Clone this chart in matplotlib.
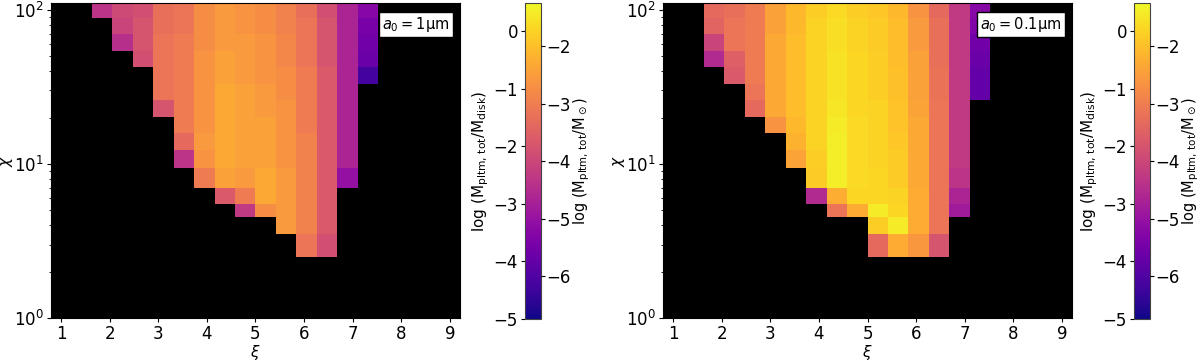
import numpy as np
import matplotlib
matplotlib.use("Agg")
import matplotlib.pyplot as plt
from matplotlib.colors import Normalize

# ---------------- data ----------------
xi_values = np.linspace(1, 9, 20)          # xi grid (cell centres)
# chi grid (cell centres) (top of the panel downward)
chi_values = [100, 78.1, 61.0, 47.7, 37.3, 29.1, 22.7, 17.8, 13.9, 10.8,
              8, 6, 5, 4, 3, 2, 1]

# log(M_pltm,tot / M_disk); each list is one xi column, values from the top (chi=100) downward.
# empty lists: no planetesimals (black)
left_cols = [
    [], [],
    [-2.6],
    [-2.2, -2.3, -2.7],
    [-2.1, -2.0, -2.0, -2.1],
    [-1.5, -1.5, -1.4, -1.4, -1.4, -1.4, -2.0],
    [-1.4, -1.4, -1.3, -1.3, -1.3, -1.3, -1.3, -1.3, -1.6, -2.6],
    [-1.0, -1.0, -1.0, -0.9, -0.9, -0.9, -0.9, -0.9, -0.8, -0.9, -1.3],
    [-0.8, -0.8, -0.8, -0.7, -0.7, -0.6, -0.6, -0.6, -0.6, -0.6, -0.7, -1.9],
    [-0.9, -0.9, -0.8, -0.8, -0.8, -0.7, -0.7, -0.7, -0.7, -0.7, -0.8, -1.3, -2.5],
    [-1.0, -1.0, -0.9, -0.9, -0.9, -0.8, -0.8, -0.7, -0.7, -0.7, -0.6, -0.6, -1.0],
    [-1.2, -1.2, -1.1, -1.1, -1.0, -1.0, -0.9, -0.9, -0.9, -0.9, -0.8, -0.8, -0.8, -0.8],
    [-1.5, -1.4, -1.4, -1.4, -1.3, -1.3, -1.3, -1.3, -1.2, -1.2, -1.2, -1.2, -1.2, -1.2, -1.4],
    [-2.1, -2.0, -2.0, -2.0, -1.9, -1.9, -1.9, -1.9, -1.9, -1.9, -1.9, -1.9, -1.9, -1.9, -2.1],
    [-2.9, -2.9, -2.9, -2.9, -2.9, -2.9, -2.9, -2.9, -2.9, -2.9, -3.3],
    [-3.5, -3.7, -3.8, -3.9, -4.4],
    [], [], [], [],
]

right_cols = [
    [], [],
    [-1.6, -1.7, -2.3, -2.8],
    [-1.5, -1.4, -1.4, -1.8, -1.9],
    [-1.3, -1.3, -1.3, -1.3, -1.3, -1.4, -1.6],
    [-0.7, -0.7, -0.6, -0.6, -0.6, -0.6, -0.6, -0.9],
    [-0.35, -0.35, -0.3, -0.3, -0.3, -0.3, -0.3, -0.35, -0.45, -0.65],
    [-0.05, 0.0, 0.0, 0.0, 0.0, 0.0, 0.0, 0.0, 0.0, -0.05, -0.1, -2.8],
    [0.1, 0.15, 0.15, 0.2, 0.2, 0.2, 0.25, 0.3, 0.35, 0.35, 0.35, -0.5, -1.4],
    [-0.05, 0.0, 0.0, 0.05, 0.05, 0.05, 0.05, 0.1, 0.1, 0.1, 0.1, 0.05, -0.55],
    [-0.15, -0.1, -0.1, -0.05, -0.05, -0.05, 0.0, 0.0, 0.0, 0.0, 0.05, 0.05, 0.3, -0.05, -1.6],
    [-0.35, -0.3, -0.3, -0.3, -0.25, -0.25, -0.2, -0.2, -0.15, -0.1, -0.1, 0.0, 0.05, 0.3, -0.55],
    [-0.9, -0.8, -0.8, -0.7, -0.7, -0.7, -0.65, -0.6, -0.6, -0.6, -0.6, -0.55, -0.55, -0.55, -0.85],
    [-1.6, -1.5, -1.5, -1.5, -1.45, -1.45, -1.4, -1.4, -1.4, -1.4, -1.4, -1.4, -1.4, -1.4, -2.0],
    [-2.5, -2.5, -2.5, -2.5, -2.5, -2.5, -2.5, -2.5, -2.5, -2.5, -2.6, -2.9, -3.1],
    [-3.5, -3.6, -3.8, -3.9, -4.0, -4.0],
    [], [], [], [],
]

panel_labels = [r"$a_0 = 1$μm", r"$a_0 = 0.1$μm"]
log_mdisk = -1.74          # offset between the two colour-bar scales
vmin, vmax = -5.0, 0.49
cbar_ticks_disk = [0, -1, -2, -3, -4, -5]
cbar_ticks_sun = [-2, -3, -4, -5, -6]


def to_grid(cols, nrows):
    grid = np.full((nrows, len(cols)), np.nan)
    for i, col in enumerate(cols):
        for k, v in enumerate(col):
            grid[k, i] = v
    return grid


plt.rcParams['font.family'] = ['DejaVu Sans']
plt.rcParams['font.size'] = 12
for a in ('xtick', 'ytick'):
    plt.rcParams[f'{a}.major.size'] = 2.6
    plt.rcParams[f'{a}.minor.size'] = 1.6
    plt.rcParams[f'{a}.major.pad'] = 2.5
    plt.rcParams[f'{a}.minor.pad'] = 2.5
    plt.rcParams[f'{a}.labelsize'] = 12

fig = plt.figure(figsize=(12, 3.61), dpi=100)
W, H = 1200.0, 361.0

ax_boxes = [(51, 3, 409, 315), (663, 3, 409, 315)]
cax_boxes = [(525, 3, 16, 316), (1134, 3, 16, 316)]
norm = Normalize(vmin=vmin, vmax=vmax)

for cols, lab, (x0, y0, w, h), (cx0, cy0, cw, ch) in zip(
        [left_cols, right_cols], panel_labels, ax_boxes, cax_boxes):
    ax = fig.add_axes([x0 / W, 1 - (y0 + h) / H, w / W, h / H])
    grid = to_grid(cols, len(chi_values))
    ax.set_facecolor('black')
    mesh = ax.pcolormesh(xi_values, chi_values, np.ma.masked_invalid(grid),
                         cmap='plasma', norm=norm, shading='nearest')
    ax.set_yscale('log')
    ax.set_ylim(bottom=1)
    ax.set_xticks(range(1, 10))
    ax.set_xlabel(r"$\xi$", fontsize=11)
    ax.set_ylabel(r"$\chi$", fontsize=11)
    ax.xaxis.set_label_coords(0.5, -0.078)
    ax.yaxis.set_label_coords(-0.087, 0.5)
    ax.text(0.974, 0.962, lab, transform=ax.transAxes, ha='right', va='top',
            fontsize=10.5,
            bbox=dict(facecolor='white', edgecolor='black', boxstyle='square,pad=0.22', lw=1))

    cax = fig.add_axes([cx0 / W, 1 - (cy0 + ch) / H, cw / W, ch / H])
    cb = fig.colorbar(mesh, cax=cax)
    cb.set_ticks(cbar_ticks_disk)
    cax.yaxis.set_ticks_position('left')
    cax.yaxis.set_label_position('left')
    cb.set_label(r"$\log\,(\mathrm{M_{pltm,\,tot}/M_{disk}})$", fontsize=11, labelpad=2)
    cb.outline.set_edgecolor('#444444')
    cax2 = cax.twinx()
    cax2.set_ylim(vmin + log_mdisk, vmax + log_mdisk)
    cax2.set_yticks(cbar_ticks_sun)
    cax2.tick_params(axis='y', pad=1.5)
    cax2.set_ylabel(r"$\log\,(\mathrm{M_{pltm,\,tot}/M_\odot})$", fontsize=10.5, labelpad=0)
    for s in cax2.spines.values():
        s.set_visible(False)

fig.savefig("out.png", dpi=100)
